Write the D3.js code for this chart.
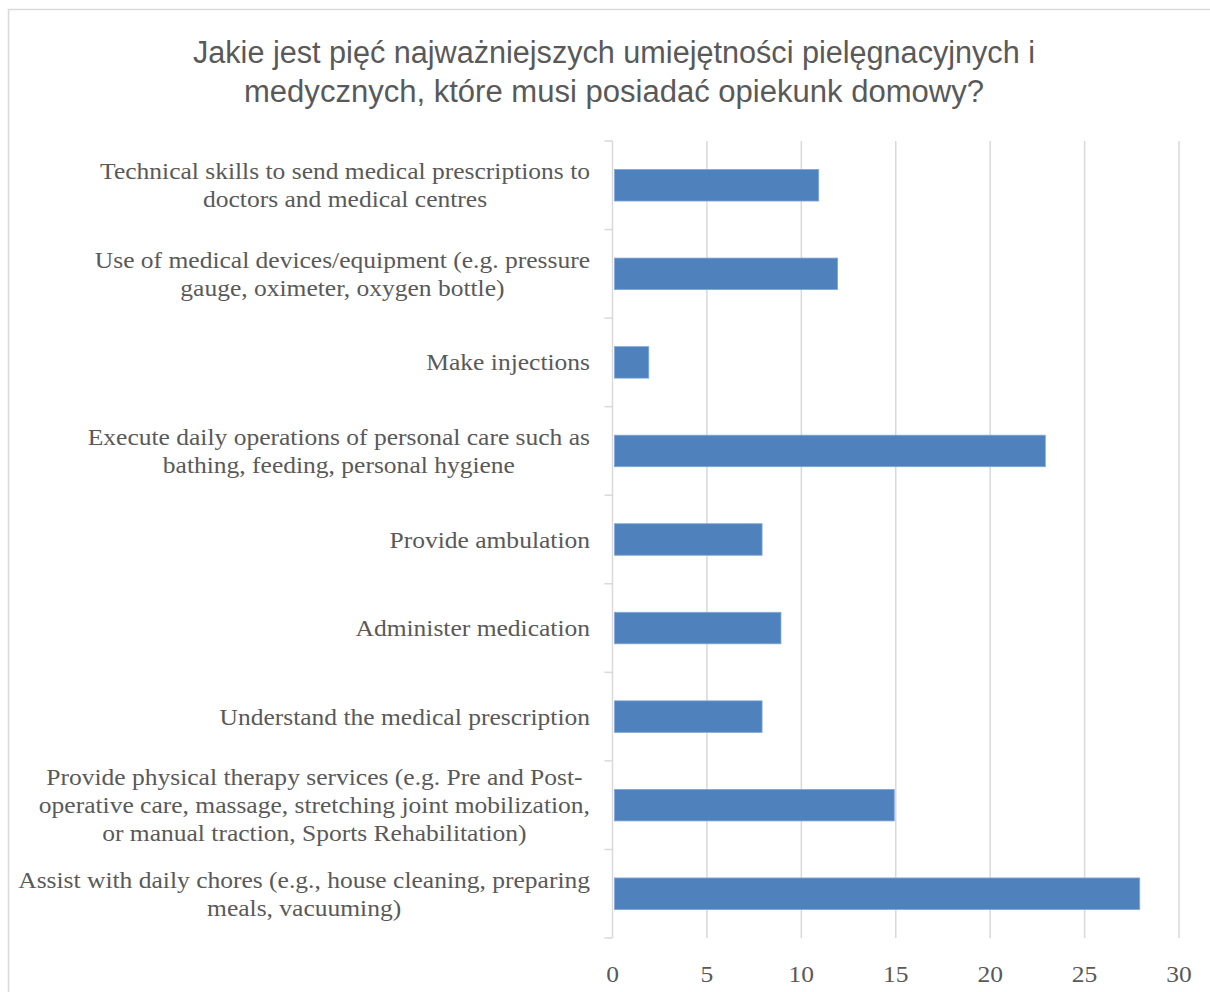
<!DOCTYPE html>
<html>
<head>
<meta charset="utf-8">
<script src="https://cdn.jsdelivr.net/npm/d3@7"></script>
<style>
  html, body { margin: 0; padding: 0; background: #fff; }
  svg { display: block; }
</style>
</head>
<body>
<div id="chart"></div>
<script>
const titleLines = [
  "Jakie jest pięć najważniejszych umiejętności pielęgnacyjnych i",
  "medycznych, które musi posiadać opiekunk domowy?"
];
const categories = [
  "Technical skills to send medical prescriptions to\ndoctors and medical centres",
  "Use of medical devices/equipment (e.g. pressure\ngauge, oximeter, oxygen bottle)",
  "Make injections",
  "Execute daily operations of personal care such as\nbathing, feeding, personal hygiene",
  "Provide ambulation",
  "Administer medication",
  "Understand the medical prescription",
  "Provide physical therapy services (e.g. Pre and Post-\noperative care, massage, stretching joint mobilization,\nor manual traction, Sports Rehabilitation)",
  "Assist with daily chores (e.g., house cleaning, preparing\nmeals, vacuuming)"
];
const values = [11, 12, 2, 23, 8, 9, 8, 15, 28];
const xTicks = [0, 5, 10, 15, 20, 25, 30];

const W = 1210, H = 992;
const svg = d3.select("#chart").append("svg").attr("width", W).attr("height", H);
svg.append("rect").attr("width", W).attr("height", H).attr("fill", "#fff");

// chart area border
svg.append("rect")
  .attr("x", 8.5).attr("y", 9.5).attr("width", W + 20).attr("height", H + 20)
  .attr("fill", "none").attr("stroke", "#d9d9d9").attr("stroke-width", 1.5);

// title
const titleWidths = [842, 740];
svg.append("g").selectAll("text").data(titleLines).join("text")
  .attr("x", 614).attr("y", (d, i) => 63 + i * 39)
  .attr("text-anchor", "middle")
  .attr("font-family", "'Liberation Sans', Arial, sans-serif")
  .attr("font-size", 31)
  .attr("fill", "#595959")
  .attr("textLength", (d, i) => titleWidths[i])
  .attr("lengthAdjust", "spacingAndGlyphs")
  .text(d => d);

const x = d3.scaleLinear().domain([0, 30]).range([612.5, 1179]);
const y = d3.scaleBand().domain(categories).range([141, 938]).padding(0);

// gridlines
svg.append("g").selectAll("line").data(xTicks.filter(t => t > 0)).join("line")
  .attr("x1", d => x(d)).attr("x2", d => x(d))
  .attr("y1", 141).attr("y2", 938)
  .attr("stroke", "#d9d9d9").attr("stroke-width", 1.5);

// left axis line with boundary ticks
const bounds = categories.map(c => y(c)).concat([y.range()[1]]);
svg.append("line").attr("x1", x(0)).attr("x2", x(0)).attr("y1", 141).attr("y2", 938)
  .attr("stroke", "#d9d9d9").attr("stroke-width", 1.5);
svg.append("g").selectAll("line").data(bounds).join("line")
  .attr("x1", x(0) - 8).attr("x2", x(0))
  .attr("y1", d => d).attr("y2", d => d)
  .attr("stroke", "#d9d9d9").attr("stroke-width", 1.5);

// bars
const barH = 31.5;
svg.append("g").selectAll("rect").data(categories).join("rect")
  .attr("x", x(0) + 2)
  .attr("y", d => y(d) + (y.bandwidth() - barH) / 2)
  .attr("width", (d, i) => x(values[i]) - x(0) - 3.5)
  .attr("height", barH)
  .attr("fill", "#4f81bd")
  .attr("stroke", "#7ea6d8").attr("stroke-width", 0.8);

// category labels: block right-aligned at x=590, lines centred within block
const lineH = 28;
const sx = 1.11;
const labG = svg.append("g")
  .attr("transform", `translate(590,0) scale(${sx},1)`)
  .attr("font-family", "'Liberation Serif', 'Times New Roman', serif")
  .attr("font-size", 23).attr("fill", "#595959").attr("text-anchor", "middle");
categories.forEach(c => {
  const lines = c.split("\n");
  const cy = y(c) + y.bandwidth() / 2;
  const t = labG.append("text");
  const spans = lines.map((ln, j) => t.append("tspan")
      .attr("y", cy + (j - (lines.length - 1) / 2) * lineH)
      .attr("dy", "0.35em")
      .text(ln));
  const maxW = d3.max(spans, s => s.node().getComputedTextLength());
  spans.forEach(s => s.attr("x", -maxW / 2));
});

// x axis tick labels
svg.append("g").selectAll("text").data(xTicks).join("text")
  .attr("transform", d => `translate(${x(d)},982) scale(${sx},1)`)
  .attr("text-anchor", "middle")
  .attr("font-family", "'Liberation Serif', 'Times New Roman', serif")
  .attr("font-size", 23).attr("fill", "#595959")
  .text(d => d);
</script>
</body>
</html>
